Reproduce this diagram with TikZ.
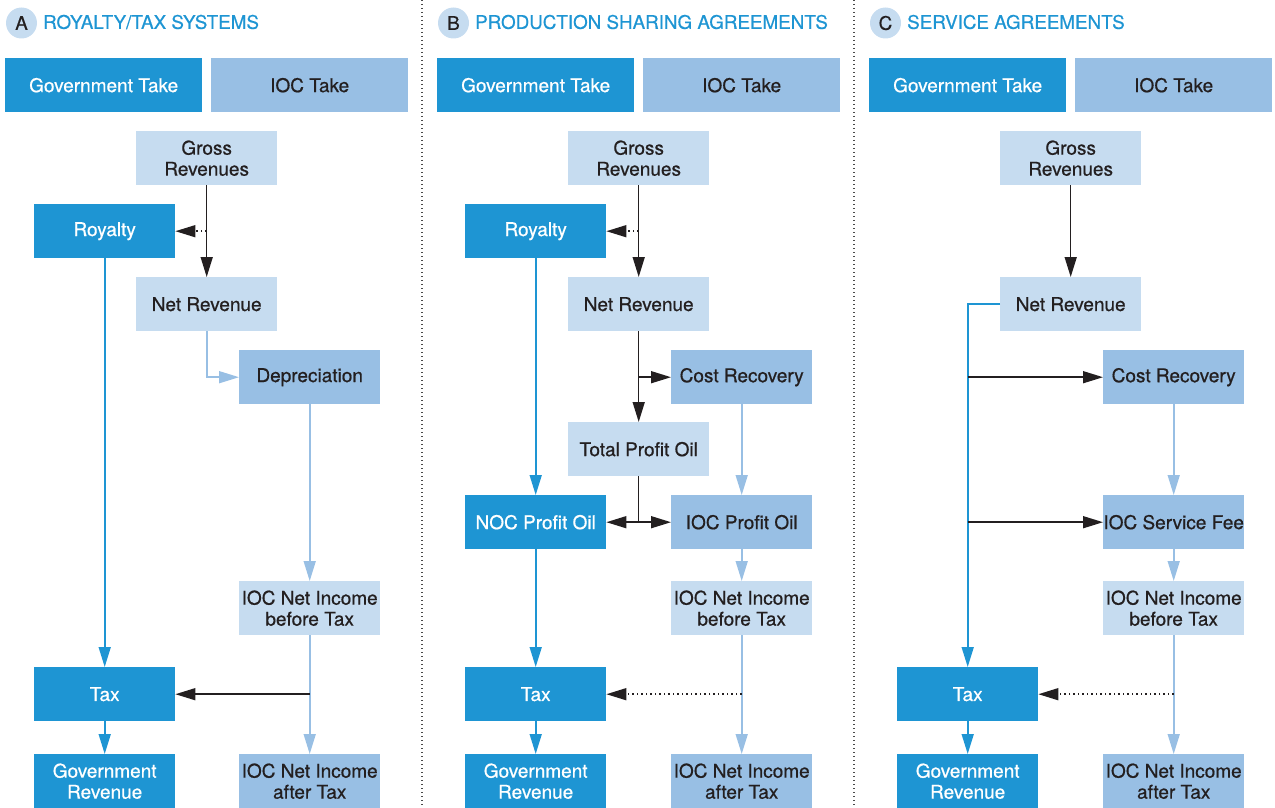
\documentclass[tikz,border=0pt]{standalone}
\usepackage{fontspec}
\setmainfont{TeX Gyre Heros}[FakeBold=0.6]
\usetikzlibrary{arrows.meta}
\definecolor{govblue}{HTML}{1E95D3}
\definecolor{iocblue}{HTML}{98BFE4}
\definecolor{paleblue}{HTML}{C6DCF0}
\definecolor{ink}{HTML}{231F20}
\definecolor{sepgray}{HTML}{4A4A4A}
\tikzset{
  box/.style={anchor=north west, minimum width=141pt, minimum height=54pt,
    inner sep=0pt, align=center, font=\fontsize{19}{21}\selectfont},
  gov/.style={box, fill=govblue, text=white},
  ioc/.style={box, fill=iocblue, text=ink},
  flow/.style={box, fill=paleblue, text=ink},
  head/.style={minimum width=197pt},
  bigtip/.style={-{Triangle[length=20pt,width=12pt]}},
  blkarrow/.style={draw=ink, line width=1.5pt, bigtip},
  blkline/.style={draw=ink, line width=1.5pt},
  blkdot/.style={draw=ink, line width=1.5pt, dash pattern=on 1.5pt off 3pt, bigtip},
  govarrow/.style={draw=govblue, line width=1.6pt, bigtip},
  iocarrow/.style={draw=iocblue, line width=1.6pt, bigtip},
  badge/.style={circle, fill=paleblue, minimum size=31pt, inner sep=0pt,
    text=ink, font=\fontsize{18.8}{21}\selectfont},
  title/.style={anchor=west, inner sep=0pt, text=govblue, font=\fontsize{18.8}{21}\selectfont},
  divider/.style={draw=sepgray, line width=1.4pt, dash pattern=on 1.3pt off 2.7pt}
}
\begin{document}
\begin{tikzpicture}[x=1pt, y=-1pt]
\useasboundingbox (0,0) rectangle (1275,808);

% panel dividers
\coordinate (d1top) at (422,0);  \coordinate (d1bot) at (422,808);
\coordinate (d2top) at (854,0);  \coordinate (d2bot) at (854,808);
\draw[divider] (d1top) -- (d1bot);
\draw[divider] (d2top) -- (d2bot);

% ---------------- A: royalty/tax systems ----------------
\node[badge] (aBadge) at (21.5,23) {A};
\node[title] (aTitle) at (43,22) {ROYALTY/TAX SYSTEMS};
\node[gov, head] (aGovTake) at (5,58) {Government Take};
\node[ioc, head] (aIocTake) at (211,58) {IOC Take};
\node[flow] (aGross) at (136,131) {Gross\\Revenues};
\node[gov]  (aRoy)   at (34,204)  {Royalty};
\node[flow] (aNet)   at (136,277) {Net Revenue};
\node[ioc]  (aDep)   at (239,350) {Depreciation};
\node[flow] (aNIb)   at (239,581) {IOC Net Income\\before Tax};
\node[gov]  (aTax)   at (34,667)  {Tax};
\node[gov]  (aRev)   at (34,754)  {Government\\Revenue};
\node[ioc]  (aNIa)   at (239,754) {IOC Net Income\\after Tax};

\draw[blkarrow] (aGross) -- (aNet);
\draw[blkdot] (aGross.south |- aRoy.east) -- (aRoy.east);
\draw[iocarrow] (aNet.south) |- (aDep.west);
\draw[govarrow] (aRoy) -- (aTax);
\draw[iocarrow] (aDep) -- (aNIb);
\draw[iocarrow] (aNIb) -- (aNIa);
\draw[blkarrow] (aNIb.south |- aTax.east) -- (aTax.east);
\draw[govarrow] (aTax) -- (aRev);

% ---------------- B: production sharing agreements ----------------
\node[badge] (bBadge) at (453.5,23) {B};
\node[title] (bTitle) at (475,22) {PRODUCTION SHARING AGREEMENTS};
\node[gov, head] (bGovTake) at (437,58) {Government Take};
\node[ioc, head] (bIocTake) at (643,58) {IOC Take};
\node[flow] (bGross) at (568,131) {Gross\\Revenues};
\node[gov]  (bRoy)   at (465,204) {Royalty};
\node[flow] (bNet)   at (568,277) {Net Revenue};
\node[ioc]  (bCost)  at (671,350) {Cost Recovery};
\node[flow] (bTPO)   at (568,422) {Total Profit Oil};
\node[gov]  (bNOC)   at (465,495) {NOC Profit Oil};
\node[ioc]  (bIOC)   at (671,495) {IOC Profit Oil};
\node[flow] (bNIb)   at (671,581) {IOC Net Income\\before Tax};
\node[gov]  (bTax)   at (465,667) {Tax};
\node[gov]  (bRev)   at (465,754) {Government\\Revenue};
\node[ioc]  (bNIa)   at (671,754) {IOC Net Income\\after Tax};

\draw[blkarrow] (bGross) -- (bNet);
\draw[blkdot] (bGross.south |- bRoy.east) -- (bRoy.east);
\draw[blkarrow] (bNet) -- (bTPO);
\draw[blkarrow] (bNet.south |- bCost.west) -- (bCost.west);
\draw[govarrow] (bRoy) -- (bNOC);
\draw[iocarrow] (bCost) -- (bIOC);
\coordinate (bSplit) at (bTPO.south |- bIOC.west);
\draw[blkline] (bTPO.south) -- (bSplit);
\draw[blkarrow] (bSplit) -- (bNOC.east);
\draw[blkarrow] (bSplit) -- (bIOC.west);
\draw[iocarrow] (bIOC) -- (bNIb);
\draw[govarrow] (bNOC) -- (bTax);
\draw[iocarrow] (bNIb) -- (bNIa);
\draw[blkdot] (bNIb.south |- bTax.east) -- (bTax.east);
\draw[govarrow] (bTax) -- (bRev);

% ---------------- C: service agreements ----------------
\node[badge] (cBadge) at (885.5,23) {C};
\node[title] (cTitle) at (907,22) {SERVICE AGREEMENTS};
\node[gov, head] (cGovTake) at (869,58) {Government Take};
\node[ioc, head] (cIocTake) at (1075,58) {IOC Take};
\node[flow] (cGross) at (1000,131) {Gross\\Revenues};
\node[flow] (cNet)   at (1000,277) {Net Revenue};
\node[ioc]  (cCost)  at (1103,350) {Cost Recovery};
\node[ioc]  (cFee)   at (1103,495) {IOC Service Fee};
\node[flow] (cNIb)   at (1103,581) {IOC Net Income\\before Tax};
\node[gov]  (cTax)   at (897,667) {Tax};
\node[gov]  (cRev)   at (897,754) {Government\\Revenue};
\node[ioc]  (cNIa)   at (1103,754) {IOC Net Income\\after Tax};

\draw[blkarrow] (cGross) -- (cNet);
\draw[govarrow] (cNet.west) -| (cTax.north);
\draw[blkarrow] (cTax.north |- cCost.west) -- (cCost.west);
\draw[blkarrow] (cTax.north |- cFee.west) -- (cFee.west);
\draw[iocarrow] (cCost) -- (cFee);
\draw[iocarrow] (cFee) -- (cNIb);
\draw[iocarrow] (cNIb) -- (cNIa);
\draw[blkdot] (cNIb.south |- cTax.east) -- (cTax.east);
\draw[govarrow] (cTax) -- (cRev);
\end{tikzpicture}
\end{document}
